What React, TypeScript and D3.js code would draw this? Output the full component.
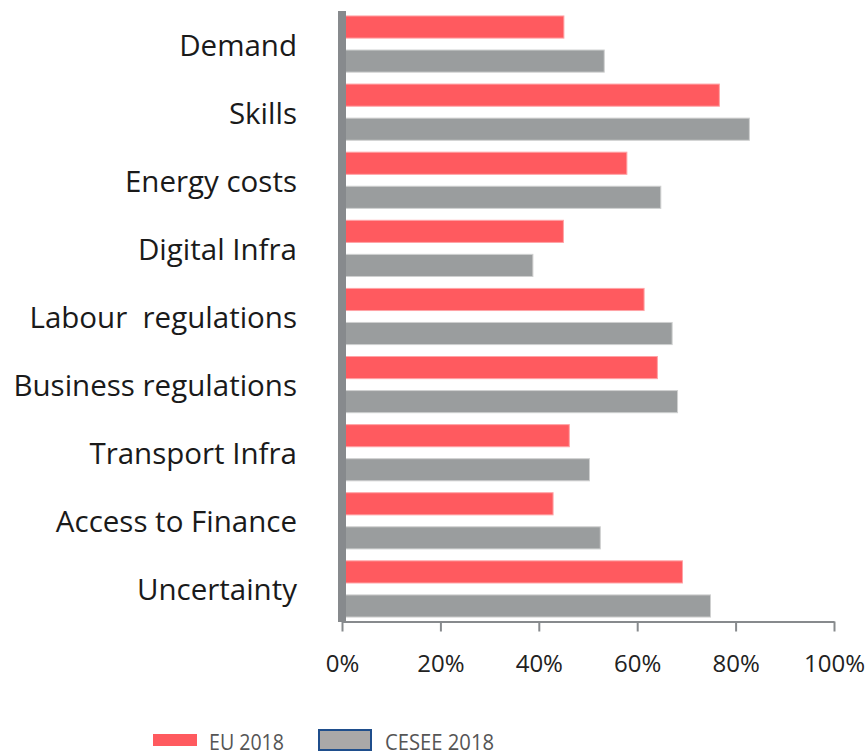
import * as d3 from "d3";
import { useEffect, useRef } from "react";

const categories = [
  "Demand",
  "Skills",
  "Energy costs",
  "Digital Infra",
  "Labour  regulations",
  "Business regulations",
  "Transport Infra",
  "Access to Finance",
  "Uncertainty",
];
const series = ["EU 2018", "CESEE 2018"];
const eu2018 = [45.1, 76.7, 57.9, 45.0, 61.4, 64.1, 46.2, 42.9, 69.2];
const cesee2018 = [53.3, 82.8, 64.8, 38.8, 67.1, 68.2, 50.3, 52.5, 74.9];
const xTicks = [0, 20, 40, 60, 80, 100];

const width = 867, height = 755;
const font = "'Open Sans', 'Noto Sans', sans-serif";

export default function App() {
  const ref = useRef<SVGSVGElement>(null);

  useEffect(() => {
    const svg = d3.select(ref.current);
    svg.selectAll("*").remove();

    const x = d3.scaleLinear().domain([0, 100]).range([342, 834]);
    const y = d3.scaleBand().domain(categories).range([10, 623]).paddingInner(0);
    const ys = d3.scaleBand().domain(series).range([0, y.bandwidth()]).paddingInner(0.35).paddingOuter(0.175);

    const colors = { "EU 2018": "#ff5a5f", "CESEE 2018": "#9a9d9e" };
    const strokes = { "EU 2018": "#ffa3a6", "CESEE 2018": "#cfd0d0" };

    const rows = categories.map((c, i) => ({ c, vals: [eu2018[i], cesee2018[i]] }));

    const g = svg.selectAll("g.cat")
      .data(rows)
      .enter()
      .append("g")
      .attr("class", "cat")
      .attr("transform", d => `translate(0,${y(d.c)})`);

    g.selectAll("rect")
      .data(d => d.vals.map((v, j) => ({ s: series[j], v })))
      .enter()
      .append("rect")
      .attr("x", x(0))
      .attr("y", d => ys(d.s)!)
      .attr("width", d => x(d.v) - x(0))
      .attr("height", ys.bandwidth())
      .attr("fill", d => colors[d.s])
      .attr("stroke", d => strokes[d.s])
      .attr("stroke-width", 1);

    // category labels
    svg.selectAll("text.cat-label")
      .data(categories)
      .enter()
      .append("text")
      .attr("class", "cat-label")
      .attr("x", 297)
      .attr("y", d => y(d)! + y.bandwidth() / 2)
      .attr("text-anchor", "end")
      .attr("dominant-baseline", "central")
      .attr("font-family", font)
      .attr("font-size", 29.5)
      .attr("fill", "#1a1a1a")
      .style("white-space", "pre")
      .text(d => d);

    // x axis
    const axis = svg.append("g")
      .attr("transform", "translate(0,621.5)")
      .call(d3.axisBottom(x).tickValues(xTicks).tickSize(10).tickSizeOuter(0).tickFormat(d => d + "%"));
    axis.select(".domain").attr("stroke", "#878a8d").attr("stroke-width", 2.2);
    axis.selectAll(".tick line").attr("stroke", "#878a8d").attr("stroke-width", 2);
    axis.selectAll(".tick text")
      .attr("y", 42)
      .attr("dy", "0.35em")
      .attr("font-family", font)
      .attr("font-size", 24)
      .attr("fill", "#222");

    // thick vertical axis
    svg.append("rect")
      .attr("x", 338)
      .attr("y", 11)
      .attr("width", 8)
      .attr("height", 611)
      .attr("fill", "#878a8d");

    // legend
    const leg = svg.append("g");
    leg.append("rect")
      .attr("x", 153).attr("y", 734).attr("width", 44).attr("height", 12)
      .attr("fill", "#ff5a5f");
    leg.append("text")
      .attr("x", 209).attr("y", 742)
      .attr("dominant-baseline", "central")
      .attr("font-family", font).attr("font-size", 21).attr("fill", "#555")
      .attr("textLength", 75).attr("lengthAdjust", "spacingAndGlyphs")
      .text(series[0]);
    leg.append("rect")
      .attr("x", 319).attr("y", 730).attr("width", 52).attr("height", 20)
      .attr("fill", "#aaa8a8").attr("stroke", "#1f4e8c").attr("stroke-width", 2);
    leg.append("text")
      .attr("x", 385).attr("y", 742)
      .attr("dominant-baseline", "central")
      .attr("font-family", font).attr("font-size", 21).attr("fill", "#555")
      .attr("textLength", 109).attr("lengthAdjust", "spacingAndGlyphs")
      .text(series[1]);
  }, []);

  return (
    <svg
      ref={ref}
      width={width}
      height={height}
      style={{ position: "absolute", left: 0, top: 0, background: "#fff" }}
    />
  );
}
